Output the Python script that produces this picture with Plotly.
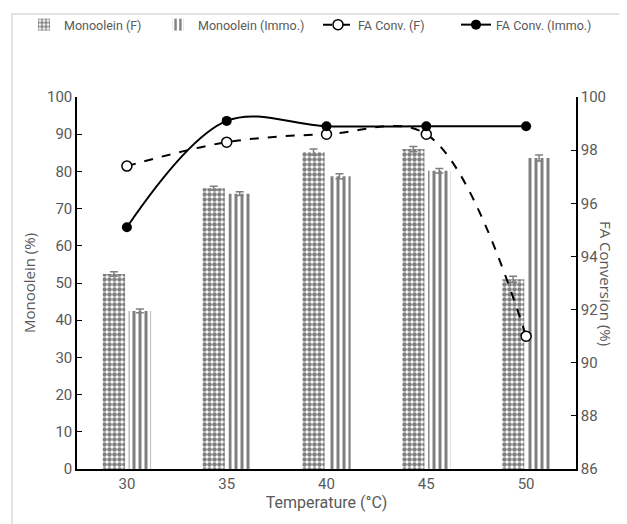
import plotly.graph_objects as go

temps = ["30", "35", "40", "45", "50"]
mono_f = [52.4, 75.5, 85.2, 86.0, 51.0]
mono_f_err = [0.6, 0.5, 0.8, 0.7, 0.8]
mono_i = [42.5, 74.0, 78.7, 80.2, 83.6]
mono_i_err = [0.5, 0.5, 0.7, 0.6, 0.8]
conv_f = [97.4, 98.3, 98.6, 98.6, 91.0]
conv_i = [95.1, 99.1, 98.9, 98.9, 98.9]

grey = "#595959"
fnt = "Roboto"

fig = go.Figure()
fig.add_trace(go.Bar(
    x=temps, y=mono_f, name="Monoolein (F)", legend="legend",
    marker=dict(color="white", line=dict(width=0),
                pattern=dict(shape=".", fgcolor="black", bgcolor="white", size=5, solidity=0.65)),
    error_y=dict(type="data", array=mono_f_err, color="#7f7f7f", thickness=1.5, width=4),
))
fig.add_trace(go.Bar(
    x=temps, y=mono_i, name="Monoolein (Immo.)", legend="legend2",
    marker=dict(color="white", line=dict(width=0),
                pattern=dict(shape="|", fgcolor="black", bgcolor="white", size=6, solidity=0.5)),
    error_y=dict(type="data", array=mono_i_err, color="#7f7f7f", thickness=1.5, width=4),
))
fig.add_trace(go.Scatter(
    x=temps, y=conv_f, name="FA Conv. (F)", yaxis="y2", mode="lines+markers", legend="legend3",
    line=dict(color="black", width=2, dash="dash", shape="spline", smoothing=1),
    marker=dict(symbol="circle", size=10, color="white", line=dict(color="black", width=1.5)),
))
fig.add_trace(go.Scatter(
    x=temps, y=conv_i, name="FA Conv. (Immo.)", yaxis="y2", mode="lines+markers", legend="legend4",
    line=dict(color="black", width=2, shape="spline", smoothing=1),
    marker=dict(symbol="circle", size=10, color="black"),
))

W, H = 627, 524
ml, mr, mt, mb = 69, 59, 89, 63
pw, ph = W - ml - mr, H - mt - mb


def leg(px):
    return dict(orientation="h", xref="container", yref="container",
                x=px / W, y=1 - 17 / H, xanchor="left", yanchor="middle",
                font=dict(size=12.5, color=grey), bgcolor="rgba(0,0,0,0)")


fig.update_layout(
    width=W, height=H,
    margin=dict(l=ml, r=mr, t=mt, b=mb),
    paper_bgcolor="white", plot_bgcolor="white",
    barmode="group", bargap=0.48, bargroupgap=0.14,
    font=dict(family=fnt, color=grey, size=13),
    showlegend=True,
    legend=leg(16), legend2=leg(150), legend3=leg(310), legend4=leg(448),
    xaxis=dict(type="category", showline=True, linecolor="black", linewidth=1.5,
               ticks="", showgrid=False, tickfont=dict(size=15, color=grey),
               title=dict(text="Temperature (°C)", font=dict(size=16, color=grey), standoff=4)),
    yaxis=dict(range=[0, 100], dtick=10, showline=True, linecolor="black", linewidth=1.5,
               ticks="inside", ticklen=5, tickcolor="black", showgrid=False,
               tickfont=dict(size=15, color=grey), zeroline=False,
               title=dict(text="Monoolein (%)", font=dict(family="Open Sans", size=15, color=grey), standoff=8)),
    yaxis2=dict(range=[86, 100], dtick=2, overlaying="y", side="right", showline=True,
                linecolor="black", linewidth=1.5, ticks="inside", ticklen=5, tickcolor="black",
                showgrid=False, zeroline=False, tickfont=dict(size=15, color=grey)),
    annotations=[dict(text="FA Conversion (%)", textangle=90, xref="paper", yref="paper",
                      x=(610 - ml) / pw, y=0.5, showarrow=False,
                      font=dict(family="Open Sans", size=15, color=grey))],
    shapes=[dict(type="rect", xref="paper", yref="paper",
                 x0=(4 - ml) / pw, x1=(W - 4 - ml) / pw,
                 y0=-(H - 4 - mt - ph) / ph, y1=1 + (mt - 6) / ph,
                 line=dict(color="#d9d9d9", width=1.5), layer="below")],
)

fig.write_html("out.html")
